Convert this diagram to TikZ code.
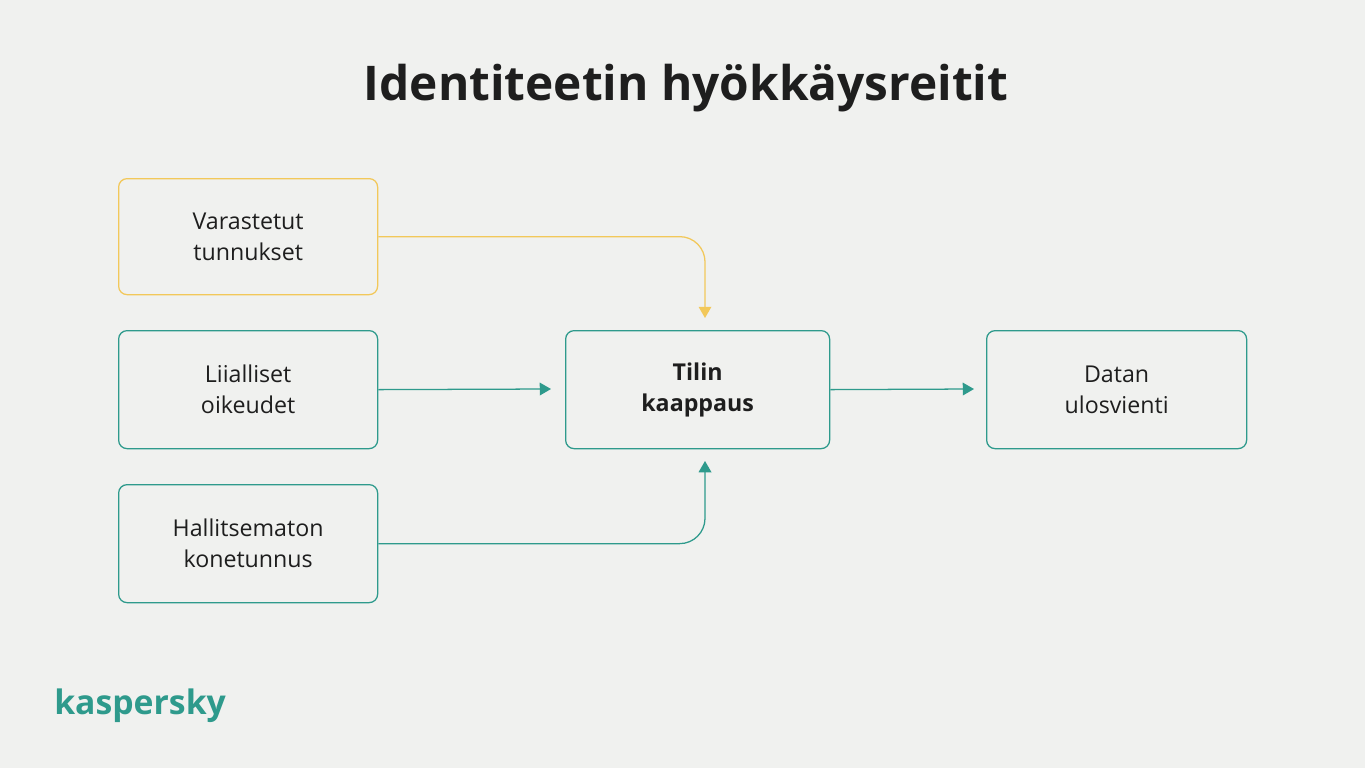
\documentclass[tikz,border=0pt]{standalone}
\usepackage{fontspec}
\setmainfont{Open Sans}
\usetikzlibrary{arrows.meta}
\definecolor{bg}{HTML}{F0F1EF}
\definecolor{teal}{HTML}{2E9A8C}
\definecolor{yel}{HTML}{F2C85A}
\definecolor{ink}{HTML}{1E1E1E}
\begin{document}
\begin{tikzpicture}[x=0.025cm,y=-0.025cm,
  box/.style={draw=teal,line width=0.9pt,rounded corners=6pt,minimum width=259*0.025cm,minimum height=118*0.025cm,align=center,font=\fontsize{16.5}{22}\selectfont,text=ink,anchor=north west,inner sep=0pt},
  conn/.style={draw=teal,line width=0.9pt,-{Triangle[length=8pt,width=9pt]},rounded corners=18pt}]
\fill[bg] (0,0) rectangle (1365,768);
\node[font=\fontsize{34}{40}\selectfont\bfseries,text=ink] (title) at (686,88) {Identiteetin hyökkäysreitit};
\node[box,draw=yel,minimum height=116*0.025cm] (v) at (118,178) {Varastetut\\tunnukset};
\node[box] (l) at (118,330) {Liialliset\\oikeudet};
\node[box] (h) at (118,484) {Hallitsematon\\konetunnus};
\node[box,minimum width=264*0.025cm,font=\fontsize{16.5}{22}\selectfont\bfseries] (t) at (565,330) {Tilin\\kaappaus};
\node[box,minimum width=260*0.025cm] (d) at (986,330) {Datan\\ulosvienti};
\coordinate (vt) at (705,318);
\coordinate (ht) at (705,461);
\coordinate (le) at (551,389);
\coordinate (te) at (974,389);
\draw[conn,draw=yel,-{Triangle[length=8pt,width=9pt,fill=yel]}] (v.east) -| (vt);
\draw[conn] (l.east) -- (le);
\draw[conn] (t.east) -- (te);
\draw[conn] (h.east) -| (ht);
\node[font=\fontsize{24}{28}\selectfont\bfseries,text=teal,anchor=west,inner sep=0pt] (logo) at (54,706) {kaspersky};
\end{tikzpicture}
\end{document}
